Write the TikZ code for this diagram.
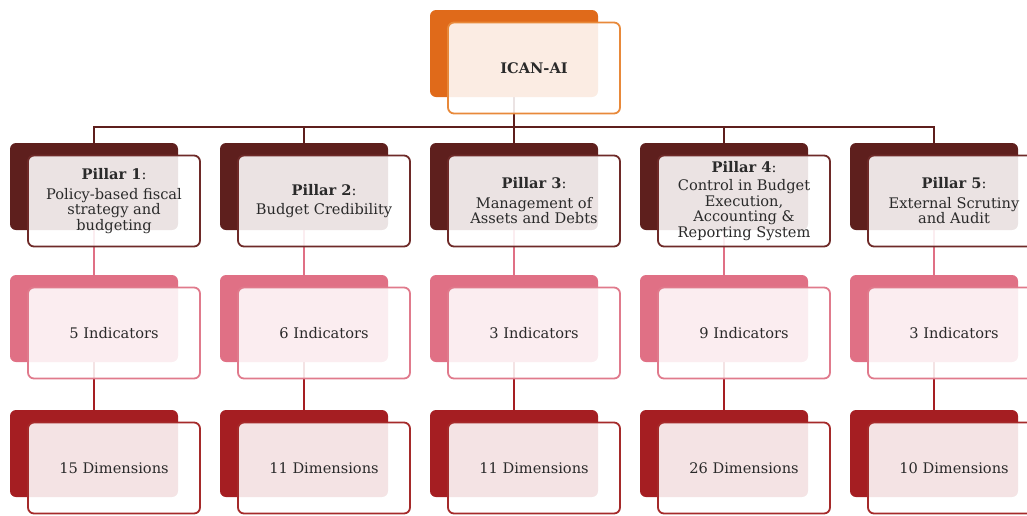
\documentclass[tikz,border=0pt]{standalone}
\usepackage{fontspec}
\setmainfont{DejaVu Serif}
\usetikzlibrary{backgrounds}

\definecolor{topback}{HTML}{E06A1A}
\definecolor{topedge}{HTML}{E8893A}
\definecolor{pilback}{HTML}{5E1F1D}
\definecolor{piledge}{HTML}{6E2A28}
\definecolor{indback}{HTML}{E07085}
\definecolor{indedge}{HTML}{E07A8C}
\definecolor{dimback}{HTML}{A51E22}
\definecolor{dimedge}{HTML}{A52A2A}
\definecolor{txt}{HTML}{2A2A2A}

\tikzset{
  backbox/.style={rectangle, rounded corners=6pt, inner sep=0pt,
    minimum width=168pt, minimum height=87pt, fill=#1},
  frontbox/.style={rectangle, rounded corners=6pt, inner sep=0pt,
    minimum width=172pt, minimum height=91pt, draw=#1, line width=1.8pt,
    fill=white, fill opacity=0.88, text opacity=1, text=txt,
    align=center, font=\fontsize{14.6}{15.5}\selectfont},
  link/.style={line width=2pt, draw=#1},
}

\begin{document}
\begin{tikzpicture}[x=1pt,y=-1pt]
\useasboundingbox (0,0) rectangle (1027,515);
\clip (0,0) rectangle (1027,515);
\coordinate (bus) at (0,127);

% top
\node[backbox=topback] (topb) at (514,53.5) {};
\node[frontbox=topedge] (topf) at (534,68) {\textbf{ICAN-AI}};

% pillars
\node[backbox=pilback] (p1b) at (94,186.5) {};
\node[frontbox=piledge] (p1f) at (114,201) {\textbf{Pillar 1}:\\[4pt]Policy-based fiscal\\strategy and\\budgeting};
\node[backbox=pilback] (p2b) at (304,186.5) {};
\node[frontbox=piledge] (p2f) at (324,201) {\textbf{Pillar 2}:\\[4pt]Budget Credibility};
\node[backbox=pilback] (p3b) at (514,186.5) {};
\node[frontbox=piledge] (p3f) at (534,201) {\textbf{Pillar 3}:\\[4pt]Management of\\Assets and Debts};
\node[backbox=pilback] (p4b) at (724,186.5) {};
\node[frontbox=piledge] (p4f) at (744,201) {\textbf{Pillar 4}:\\[3pt]Control in Budget\\Execution,\\Accounting \&\\Reporting System};
\node[backbox=pilback] (p5b) at (934,186.5) {};
\node[frontbox=piledge] (p5f) at (954,201) {\textbf{Pillar 5}:\\[4pt]External Scrutiny\\and Audit};

% indicators
\node[backbox=indback] (i1b) at (94,318.5) {};
\node[frontbox=indedge] (i1f) at (114,333) {5 Indicators};
\node[backbox=indback] (i2b) at (304,318.5) {};
\node[frontbox=indedge] (i2f) at (324,333) {6 Indicators};
\node[backbox=indback] (i3b) at (514,318.5) {};
\node[frontbox=indedge] (i3f) at (534,333) {3 Indicators};
\node[backbox=indback] (i4b) at (724,318.5) {};
\node[frontbox=indedge] (i4f) at (744,333) {9 Indicators};
\node[backbox=indback] (i5b) at (934,318.5) {};
\node[frontbox=indedge] (i5f) at (954,333) {3 Indicators};

% dimensions
\node[backbox=dimback] (d1b) at (94,453.5) {};
\node[frontbox=dimedge] (d1f) at (114,468) {15 Dimensions};
\node[backbox=dimback] (d2b) at (304,453.5) {};
\node[frontbox=dimedge] (d2f) at (324,468) {11 Dimensions};
\node[backbox=dimback] (d3b) at (514,453.5) {};
\node[frontbox=dimedge] (d3f) at (534,468) {11 Dimensions};
\node[backbox=dimback] (d4b) at (724,453.5) {};
\node[frontbox=dimedge] (d4f) at (744,468) {26 Dimensions};
\node[backbox=dimback] (d5b) at (934,453.5) {};
\node[frontbox=dimedge] (d5f) at (954,468) {10 Dimensions};

% connectors
\begin{pgfonlayer}{background}
\draw[link=pilback] (topb.center) -- (p3b.center);
\draw[link=pilback] (p1b.center) -- (p1b.center |- bus) -- (p5b.center |- bus) -- (p5b.center);
\draw[link=pilback] (p2b.center) -- (p2b.center |- bus);
\draw[link=pilback] (p4b.center) -- (p4b.center |- bus);
\draw[link=indback] (p1b.center) -- (i1b.center);
\draw[link=indback] (p2b.center) -- (i2b.center);
\draw[link=indback] (p3b.center) -- (i3b.center);
\draw[link=indback] (p4b.center) -- (i4b.center);
\draw[link=indback] (p5b.center) -- (i5b.center);
\draw[link=dimback] (i1b.center) -- (d1b.center);
\draw[link=dimback] (i2b.center) -- (d2b.center);
\draw[link=dimback] (i3b.center) -- (d3b.center);
\draw[link=dimback] (i4b.center) -- (d4b.center);
\draw[link=dimback] (i5b.center) -- (d5b.center);
\end{pgfonlayer}
\end{tikzpicture}
\end{document}
